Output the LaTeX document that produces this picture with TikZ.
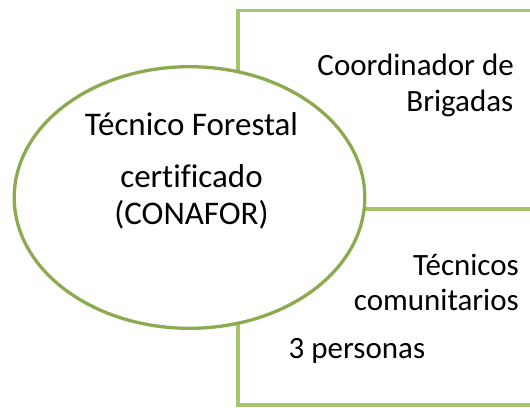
\documentclass[tikz,border=0pt]{standalone}
\usepackage{fontspec}
\setmainfont[Ligatures=NoCommon]{Carlito}
\usetikzlibrary{shapes.geometric}
\definecolor{ellgreen}{HTML}{8CAB50}
\definecolor{boxgreen}{HTML}{A5C46C}
\begin{document}
\begin{tikzpicture}[x=1pt,y=-1pt,
  boxshape/.style={draw=boxgreen,line width=3.4pt,fill=white,rectangle,inner sep=0pt,outer sep=0pt,anchor=north west,minimum width=330pt},
  ellshape/.style={draw=ellgreen,line width=3.3pt,fill=white,ellipse,inner sep=0pt,outer sep=0pt,minimum width=350.6pt,minimum height=261.6pt},
  txtell/.style={inner sep=0pt,font=\fontsize{33}{38}\selectfont,text=black},
  txtbox/.style={inner sep=0pt,font=\fontsize{31}{36}\selectfont,text=black}]
\useasboundingbox (0,0) rectangle (530,407);
\clip (0,0) rectangle (530,407);
\node[boxshape,minimum height=198.3pt] (topbox) at (238,10.7) {};
\node[boxshape,minimum height=196pt] (botbox) at (238,209) {};
\node[ellshape] (ell) at (189.5,197.5) {};
\node[txtell,anchor=base] (t1) at (191.5,135.5) {Técnico Forestal};
\node[txtell,anchor=base] (t2) at (191.5,187.3) {certificado};
\node[txtell,anchor=base] (t3) at (191.5,224) {(CONAFOR)};
\node[txtbox,anchor=base east] (c1) at (514,75) {Coordinador de};
\node[txtbox,anchor=base east] (c2) at (513.5,111.5) {Brigadas};
\node[txtbox,anchor=base east] (d1) at (519,275) {Técnicos};
\node[txtbox,anchor=base east] (d2) at (519,310) {comunitarios};
\node[txtbox,anchor=base west] (d3) at (288.5,358) {3 personas};
\end{tikzpicture}
\end{document}
